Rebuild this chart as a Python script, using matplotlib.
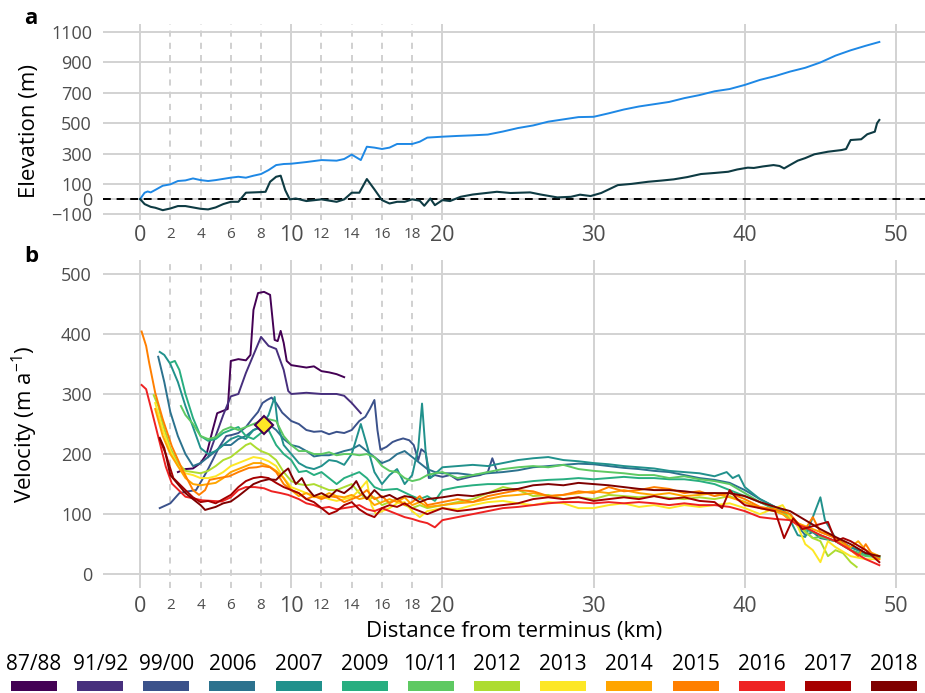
import matplotlib
matplotlib.use("Agg")
import matplotlib.pyplot as plt
from matplotlib.patches import Rectangle

plt.rcParams['font.family'] = ['Open Sans', 'DejaVu Sans']

# ---- panel a: elevation profiles ----
surf_km = [0, 0.3, 0.5, 0.7, 1.0, 1.5, 2.0, 2.5, 3.0, 3.5, 4.0, 4.5, 5.0, 6.0, 6.5, 7.0, 7.5, 8.0, 8.5,
           9.0, 9.5, 10, 11, 12, 13, 13.5, 14, 14.6, 15, 15.5, 16, 16.5, 17, 18, 18.5, 19, 20, 21, 22, 23,
           24, 25, 26, 27, 28, 29, 30, 31, 32, 33, 34, 35, 36, 37, 38, 39, 40, 41, 42, 43, 44, 45, 46, 47,
           48, 48.9]
surf_m = [0, 42, 50, 44, 60, 88, 97, 119, 123, 136, 125, 119, 125, 141, 147, 141, 154, 165, 191,
          224, 231, 233, 244, 257, 253, 264, 293, 257, 345, 339, 330, 339, 363, 363, 378, 405, 411, 416,
          420, 425, 445, 468, 485, 510, 525, 540, 542, 565, 590, 610, 625, 640, 665, 685, 710, 725, 752,
          785, 810, 840, 865, 900, 945, 980, 1010, 1035]

bed_km = [0, 0.3, 0.7, 1.0, 1.5, 2.0, 2.5, 3.0, 3.5, 4.0, 4.5, 5.0, 5.5, 6.0, 6.5, 7.0, 7.5, 8.0, 8.3,
          8.6, 9.0, 9.3, 9.6, 9.9, 10.3, 11, 12, 13, 13.5, 14, 14.5, 15, 15.5, 16, 16.5, 17, 17.5, 18,
          18.5, 18.8, 19.2, 19.5, 20, 20.5, 21.2, 22, 23.6, 24.5, 25.8, 26.5, 27.6, 28.5, 29.1, 29.8,
          30.5, 31.6, 32.5, 33.6, 34.5, 35.3, 36.2, 37.1, 38.0, 38.9, 39.5, 40.2, 40.6, 41.2, 41.9,
          42.3, 42.6, 43.0, 43.5, 44.0, 44.6, 45.5, 46.4, 46.7, 47.0, 47.7, 48.1, 48.6, 48.75, 48.9]
bed_m = [0, -33, -51, -57, -73, -62, -46, -46, -55, -64, -68, -55, -33, -18, -18, 42, 44, 46, 48,
         114, 147, 154, 59, -2, 4, -13, -2, -18, -2, 42, 42, 132, 64, -7, -29, -18, -18, -2,
         -11, -44, 4, -40, -7, -13, 15, 30, 48, 40, 44, 30, 11, 15, 29, 20,
         40, 92, 100, 114, 122, 130, 145, 165, 172, 180, 195, 207, 205, 215, 224,
         218, 202, 225, 253, 270, 295, 312, 323, 330, 389, 394, 427, 444, 500, 521]

# ---- panel b: velocity profiles ----
years = ['87/88', '91/92', '99/00', '2006', '2007', '2009', '10/11', '2012', '2013', '2014',
         '2015', '2016', '2017', '2018']
year_colors = ['#440154', '#472f7d', '#3b528b', '#2c728e', '#21918c', '#28ae80', '#5ec962',
               '#addc30', '#fde725', '#ffa500', '#ff7f00', '#ee2222', '#a60000', '#7f0000']

km_8788 = [2.5, 3.0, 3.5, 4.0, 4.4, 4.8, 5.1, 5.5, 5.8, 6.0, 6.5, 7.0, 7.3, 7.5, 7.8, 8.2, 8.6, 8.9,
           9.1, 9.3, 9.5, 9.7, 10.0, 10.5, 11.0, 11.5, 12.0, 12.5, 13.0, 13.5]
v_8788 = [170, 175, 176, 185, 200, 240, 268, 272, 275, 355, 358, 356, 365, 440, 468, 470, 465, 390,
          388, 405, 385, 355, 348, 346, 344, 346, 338, 336, 333, 328]

km_9192 = [4.5, 5.0, 5.5, 6.0, 6.5, 7.0, 7.5, 8.0, 8.5, 9.0, 9.5, 9.8, 10.0, 11, 12, 13, 13.5, 14, 14.6]
v_9192 = [195, 230, 265, 296, 300, 335, 365, 395, 380, 375, 340, 305, 300, 302, 300, 300, 297, 285, 268]

km_9900 = [1.3, 2.0, 2.6, 3.2, 3.7, 4.1, 4.5, 4.8, 5.2, 5.7, 6.1, 6.5, 7.0, 7.4, 7.8, 8.1, 8.4, 8.7,
           9.0, 9.4, 10.0, 10.5, 11.0, 11.5, 12.0, 12.5, 13.0, 13.5, 14.0, 14.5, 14.9, 15.2, 15.5,
           15.7, 15.9, 16.3, 16.7, 17.0, 17.4, 17.8, 18.1, 18.4, 18.6, 18.9, 19.1, 19.5, 20.0, 20.5,
           21.0, 21.5, 22.0, 22.5, 23.0, 23.3, 23.6]
v_9900 = [110, 118, 135, 138, 140, 157, 175, 190, 210, 230, 232, 235, 245, 258, 270, 285, 290, 294,
          285, 269, 255, 250, 240, 237, 238, 233, 237, 235, 240, 255, 262, 275, 290,
          240, 207, 212, 220, 223, 226, 223, 215, 190, 208, 202, 160, 165, 162, 165,
          157, 160, 163, 165, 170, 193, 172]

km_2006 = [1.2, 1.6, 2.0, 2.5, 3.0, 3.5, 4.0, 4.5, 5.0, 5.5, 6.0, 6.5, 7.0, 7.5, 8.0, 8.5, 9.0, 9.5,
           10.0, 10.5, 11, 11.5, 12, 12.5, 13, 13.5, 14, 14.5, 15, 15.5, 16, 16.5, 17, 17.5, 18, 18.5,
           19, 19.5, 20, 21, 22, 23, 24, 25, 26, 27, 28, 29, 30, 31, 32, 33, 34, 35, 36, 37, 38, 39,
           40, 41, 42, 43, 43.5, 44, 44.5, 45, 46, 47, 48, 48.9]
v_2006 = [362, 320, 270, 230, 200, 180, 185, 195, 205, 215, 215, 225, 230, 240, 245, 250, 240, 225,
          215, 212, 205, 196, 198, 198, 201, 205, 208, 215, 205, 195, 185, 190, 200, 205, 195, 185,
          175, 170, 168, 168, 165, 168, 170, 173, 178, 180, 182, 184, 183, 180, 177, 175, 172, 170,
          165, 160, 157, 152, 140, 125, 112, 100, 80, 65, 70, 60, 55, 45, 35, 30]

km_2007 = [1.3, 1.6, 2.0, 2.5, 3.0, 3.5, 4.0, 4.5, 5.0, 5.5, 6.0, 6.5, 7.0, 7.5, 8.0, 8.5, 8.9, 9.1,
           9.5, 10, 10.5, 11, 11.5, 12, 12.5, 13, 13.5, 14, 14.6, 15, 15.5, 16, 16.5, 17, 17.5, 18,
           18.4, 18.65, 18.9, 19.2, 20, 21, 22, 23, 24, 25, 26, 27, 28, 29, 30, 31, 32, 33, 34, 35,
           36, 37, 38, 38.8, 39.2, 39.6, 40, 41, 42, 43, 43.5, 44, 44.5, 45, 45.3, 46, 47, 48, 48.9]
v_2007 = [370, 365, 350, 320, 280, 245, 210, 200, 205, 215, 225, 230, 225, 240, 245, 265, 295, 250,
          215, 200, 185, 178, 175, 180, 190, 188, 182, 200, 250, 215, 170, 150, 165, 175, 150, 165,
          210, 284, 200, 160, 178, 180, 182, 180, 185, 190, 193, 195, 190, 188, 185, 183, 180, 178,
          176, 172, 170, 168, 163, 170, 160, 165, 145, 125, 112, 90, 65, 62, 95, 128, 90, 60, 45,
          35, 30]

km_2009 = [2.0, 2.3, 2.6, 3.0, 3.5, 4.0, 4.5, 5.0, 5.5, 6.0, 6.5, 7.0, 7.5, 8.0, 8.5, 9.0, 9.5, 10,
           10.5, 11, 11.5, 12, 12.5, 13, 13.5, 14, 14.5, 15, 15.5, 16, 17, 18, 18.5, 19, 19.5, 20,
           21, 22, 23, 24, 25, 26, 27, 28, 29, 30, 31, 32, 33, 34, 35, 36, 37, 38, 39, 40, 41, 42,
           43, 44, 45, 46, 47, 48, 48.9]
v_2009 = [352, 355, 340, 300, 260, 230, 222, 225, 235, 240, 245, 230, 225, 235, 240, 215, 200, 190,
          170, 172, 165, 170, 160, 150, 160, 165, 170, 160, 145, 140, 142, 130, 125, 130, 122, 140,
          145, 148, 150, 150, 152, 155, 157, 158, 160, 158, 160, 162, 160, 160, 158, 158, 155, 150,
          140, 130, 120, 108, 95, 75, 65, 55, 40, 32, 28]

km_1011 = [2.7, 3.0, 3.5, 4.0, 4.5, 5.0, 5.5, 6.0, 6.5, 7.0, 7.5, 8.0, 8.5, 9.0, 9.5, 10, 10.5, 11,
           11.5, 12, 12.5, 13, 13.5, 14, 14.5, 15, 15.5, 16, 16.5, 17, 17.5, 18, 18.5, 19, 19.5, 20,
           21, 22, 23, 24, 25, 26, 27, 28, 29, 30, 31, 32, 33, 34, 35, 36, 37, 38, 39, 40, 41, 42,
           43, 43.5, 44, 44.5, 45, 46, 47, 48, 48.9]
v_1011 = [280, 265, 250, 230, 225, 228, 240, 245, 240, 245, 250, 255, 258, 255, 230, 215, 205, 205,
          200, 200, 203, 198, 200, 200, 198, 200, 195, 180, 172, 170, 160, 155, 158, 165, 168, 170,
          160, 165, 170, 175, 178, 180, 178, 182, 175, 172, 170, 168, 165, 165, 160, 163, 158, 155,
          150, 135, 120, 110, 98, 85, 72, 60, 62, 55, 40, 30, 28]

km_2012 = [0.9, 1.2, 1.5, 2.0, 2.5, 3.0, 3.5, 4.0, 4.5, 5.0, 5.5, 6.0, 6.5, 7.0, 7.3, 7.7, 8.0, 8.5,
           9.0, 9.5, 10, 10.5, 11, 11.5, 12, 12.5, 13, 13.5, 14, 14.5, 15, 15.5, 16, 16.5, 17, 17.5,
           18, 18.5, 19, 20, 21, 22, 23, 24, 25, 26, 27, 28, 29, 30, 31, 32, 33, 34, 35, 36, 37, 38,
           39, 40, 41, 42, 43, 43.5, 44, 44.5, 45, 45.5, 46, 46.5, 47, 47.4]
v_2012 = [298, 280, 250, 210, 185, 172, 170, 168, 172, 180, 190, 195, 205, 215, 218, 210, 205, 200,
          190, 170, 155, 150, 148, 150, 145, 140, 140, 145, 150, 135, 125, 128, 115, 120, 125, 115,
          110, 115, 110, 115, 120, 125, 135, 145, 140, 130, 132, 125, 128, 125, 132, 130, 128, 130,
          127, 125, 128, 125, 130, 120, 110, 105, 95, 85, 70, 60, 55, 30, 40, 35, 20, 12]

km_2013 = [1.0, 1.5, 2.0, 2.5, 3.0, 3.5, 4.0, 4.5, 5.0, 5.5, 6.0, 6.5, 7.0, 7.5, 8.0, 8.5, 9.0, 9.5,
           10, 10.5, 11, 11.5, 12, 12.5, 13, 13.5, 14, 14.5, 15.0, 15.3, 15.6, 16, 16.5, 17, 17.5,
           18, 18.5, 19, 20, 21, 22, 23, 24, 25, 26, 27, 28, 29, 30, 31, 32, 33, 34, 35, 36, 37, 38,
           39, 40, 41, 42, 42.5, 43, 43.5, 44, 44.5, 45, 45.5, 46, 47, 48, 48.9]
v_2013 = [285, 240, 205, 180, 168, 165, 160, 160, 163, 170, 180, 185, 190, 195, 193, 188, 180, 160,
          145, 140, 135, 128, 130, 125, 122, 125, 128, 140, 155, 115, 100, 105, 110, 118, 120,
          105, 95, 105, 110, 108, 115, 120, 122, 118, 115, 120, 118, 110, 110, 115, 118, 112, 115,
          110, 115, 112, 115, 118, 110, 100, 110, 115, 95, 80, 50, 40, 20, 55, 45, 30, 25, 25]

km_2014 = [1.0, 1.5, 2.0, 2.5, 3.0, 3.5, 4.0, 4.5, 5.0, 5.5, 6.0, 6.5, 7.0, 7.5, 8.0, 8.5, 9.0, 9.5,
           10, 10.5, 11, 11.5, 12, 12.5, 13, 13.5, 14, 14.5, 15, 15.5, 16, 16.5, 17, 17.5, 18, 18.5,
           19, 20, 21, 22, 23, 24, 25, 26, 27, 28, 29, 30, 31, 32, 33, 34, 35, 36, 37, 38, 39, 40,
           41, 42, 42.5, 43, 43.5, 44, 44.5, 45, 45.5, 46, 46.5, 47, 47.5, 48, 48.9]
v_2014 = [275, 230, 200, 180, 160, 150, 148, 150, 152, 160, 170, 175, 180, 185, 185, 180, 172, 160,
          140, 130, 135, 130, 128, 135, 130, 128, 132, 125, 128, 115, 120, 125, 120, 128, 115, 120,
          112, 115, 118, 120, 125, 130, 132, 135, 130, 132, 135, 138, 135, 140, 135, 132, 135, 130,
          132, 135, 128, 120, 110, 105, 100, 90, 85, 80, 75, 70, 68, 60, 50, 45, 55, 40, 30]

km_2015 = [0.1, 0.4, 0.6, 1.0, 1.5, 2.1, 2.8, 3.5, 3.9, 4.3, 4.6, 5.2, 5.9, 6.5, 7.2, 7.7, 8.1, 8.6,
           9.0, 9.5, 10, 10.5, 11, 11.5, 12, 12.5, 13, 13.5, 14, 14.5, 15, 15.5, 16, 16.5, 17, 17.5,
           18, 18.5, 19, 20, 21, 22, 23, 24, 25, 26, 27, 28, 29, 30, 31, 32, 33, 34, 35, 36, 37, 38,
           39, 40, 41, 42, 43, 43.5, 44, 44.5, 45, 45.5, 46, 46.5, 47, 47.5, 48, 48.5, 48.9]
v_2015 = [404, 380, 352, 302, 258, 213, 174, 140, 132, 140, 157, 160, 163, 170, 177, 178, 180, 178,
          170, 150, 140, 135, 125, 130, 125, 130, 128, 120, 125, 130, 140, 125, 130, 118, 125, 115,
          120, 130, 115, 120, 125, 120, 130, 135, 140, 138, 130, 132, 138, 135, 145, 138, 140, 145,
          142, 135, 138, 130, 135, 125, 112, 108, 100, 85, 75, 95, 70, 65, 60, 55, 40, 30, 50, 30, 25]

km_2016 = [0.1, 0.4, 0.8, 1.25, 1.7, 2.1, 3.0, 4.1, 5.4, 6.0, 6.5, 7.0, 7.6, 8.2, 8.7, 9.3, 9.8, 10.5,
           11, 11.5, 12, 12.5, 13, 13.5, 14, 14.5, 15, 15.5, 16, 16.5, 17, 17.5, 18, 18.5, 19, 19.5,
           20, 21, 22, 23, 24, 25, 26, 27, 28, 29, 30, 31, 32, 33, 34, 35, 36, 37, 38, 39, 40, 41,
           42, 43, 43.5, 44, 45, 46, 47, 48, 48.9]
v_2016 = [315, 308, 269, 224, 179, 151, 129, 123, 121, 128, 140, 145, 145, 143, 138, 135, 132, 125,
          118, 115, 110, 112, 108, 110, 112, 115, 108, 105, 110, 105, 100, 95, 92, 88, 85, 78,
          90, 95, 100, 105, 110, 112, 115, 118, 120, 120, 118, 120, 118, 120, 118, 115, 118, 115,
          115, 112, 105, 95, 92, 90, 82, 78, 65, 55, 40, 25, 15]

km_2017 = [1.3, 1.7, 2.2, 3.0, 3.5, 4.0, 4.5, 5.0, 5.5, 6.0, 6.5, 7.0, 7.5, 8.0, 8.5, 9.0, 9.5, 10,
           10.5, 11, 11.5, 12, 12.5, 13, 13.5, 14, 14.5, 15, 15.5, 16, 16.5, 17, 17.5, 18, 18.5, 19,
           20, 21, 22, 23, 24, 25, 26, 27, 28, 29, 30, 31, 32, 33, 34, 35, 36, 37, 38, 38.5, 39,
           39.5, 40, 41, 42, 42.6, 43.2, 43.8, 44.5, 45.5, 46, 46.5, 47, 48, 48.9]
v_2017 = [225, 200, 160, 140, 128, 120, 122, 118, 125, 132, 145, 155, 160, 162, 160, 152, 145, 140,
          135, 125, 120, 110, 100, 105, 115, 120, 108, 100, 95, 110, 115, 112, 118, 110, 105, 100,
          110, 105, 108, 112, 115, 118, 125, 128, 125, 128, 122, 125, 128, 125, 130, 125, 128, 122,
          120, 110, 140, 125, 115, 110, 105, 60, 93, 75, 80, 87, 55, 60, 55, 40, 20]

km_2018 = [1.3, 1.6, 2.0, 2.5, 3.0, 3.5, 4.0, 4.3, 5.0, 5.5, 6.0, 6.5, 7.0, 7.5, 8.0, 8.5, 9.0, 9.5,
           9.8, 10, 10.3, 10.7, 11, 11.5, 12, 12.5, 13, 13.5, 14, 14.3, 14.7, 15, 15.5, 16, 16.5, 17,
           17.5, 18, 18.5, 19, 20, 21, 22, 23, 24, 25, 26, 27, 28, 29, 30, 31, 32, 33, 34, 35, 36,
           37, 38, 39, 40, 41, 42, 43, 44, 45, 46, 47, 48, 48.9]
v_2018 = [227, 210, 165, 150, 135, 125, 115, 107, 112, 118, 121, 130, 140, 150, 155, 158, 157, 170,
          176, 165, 150, 160, 145, 130, 135, 128, 140, 135, 145, 155, 135, 125, 140, 128, 132, 125,
          130, 128, 120, 125, 128, 132, 130, 135, 140, 142, 148, 150, 148, 152, 150, 148, 145, 142,
          140, 140, 138, 135, 135, 135, 130, 120, 112, 105, 90, 75, 62, 50, 35, 30]

vel_km = [km_8788, km_9192, km_9900, km_2006, km_2007, km_2009, km_1011, km_2012, km_2013,
          km_2014, km_2015, km_2016, km_2017, km_2018]
vel_v = [v_8788, v_9192, v_9900, v_2006, v_2007, v_2009, v_1011, v_2012, v_2013,
         v_2014, v_2015, v_2016, v_2017, v_2018]

marker_km = [8.2]
marker_v = [249]

major_x = [0, 10, 20, 30, 40, 50]
minor_x = [2, 4, 6, 8, 12, 14, 16, 18]
elev_ticks = [-100, 0, 100, 300, 500, 700, 900, 1100]
vel_ticks = [0, 100, 200, 300, 400, 500]

grid_col = '#d2d2d2'
tick_col = '#4d4d4d'

fig = plt.figure(figsize=(9.25, 6.93), dpi=100)
ax_a = fig.add_axes([0.1114, 0.6825, 0.8886, 0.2828])
ax_b = fig.add_axes([0.1114, 0.1515, 0.8886, 0.4733])


def style_axis(ax, major_pad, minor_pad):
    for s in ax.spines.values():
        s.set_visible(False)
    ax.set_xlim(-2.45, 51.92)
    ax.set_xticks(major_x)
    ax.set_xticklabels([str(t) for t in major_x], fontsize=15.5, color=tick_col)
    ax.set_xticks(minor_x, minor=True)
    ax.set_xticklabels([str(t) for t in minor_x], minor=True, fontsize=11, color=tick_col)
    ax.tick_params(which='both', length=0)
    ax.tick_params(axis='x', which='major', pad=major_pad)
    ax.tick_params(axis='x', which='minor', pad=minor_pad)
    ax.tick_params(axis='y', pad=8, labelsize=13, labelcolor=tick_col)
    ax.grid(which='major', color=grid_col, lw=1.4)
    ax.grid(which='minor', axis='x', color='#c4c4c4', lw=1.1, ls=(0, (4, 4)))
    ax.set_axisbelow(True)


# panel a
style_axis(ax_a, 3.5, 5.0)
ax_a.set_ylim(-138, 1153)
ax_a.set_yticks(elev_ticks)
ax_a.axhline(0, color='black', lw=1.4, ls=(0, (4, 3)), zorder=2)
ax_a.plot(surf_km, surf_m, color='#1e88e5', lw=1.4, zorder=3)
ax_a.plot(bed_km, bed_m, color='#0e3b43', lw=1.5, zorder=3)
ax_a.set_ylabel('Elevation (m)', fontsize=16)
ax_a.yaxis.set_label_coords(-0.0766, 0.455)

# panel b
style_axis(ax_b, 6.0, 7.2)
ax_b.set_ylim(-23, 523)
ax_b.set_yticks(vel_ticks)
for xs, vs, c in zip(vel_km, vel_v, year_colors):
    ax_b.plot(xs, vs, color=c, lw=1.4, zorder=3)
ax_b.plot(marker_km, marker_v, marker='D', ms=9, mfc='#fde725', mec='#440154', mew=1.5,
          ls='none', zorder=5)
ax_b.set_ylabel(r'Velocity (m a$^{\mathregular{-1}}$)', fontsize=16)
ax_b.yaxis.set_label_coords(-0.0766, 0.5)
ax_b.set_xlabel('Distance from terminus (km)', fontsize=16, va='center')
ax_b.xaxis.set_label_coords(0.5, -0.134)

fig.text(24 / 925, 1 - 18 / 693, 'a', fontsize=16, fontweight='bold', va='center')
fig.text(24 / 925, 1 - 257 / 693, 'b', fontsize=16, fontweight='bold', va='center')

# legend: labels above colour keys
for i, (lab, c) in enumerate(zip(years, year_colors)):
    cx = (34 + i * 66.15) / 925
    fig.text(cx, 1 - 665 / 693, lab, fontsize=15, ha='center', va='center', color='black')
    fig.add_artist(Rectangle((cx - 23 / 925, 1 - 691 / 693), 46 / 925, 10 / 693,
                             transform=fig.transFigure, facecolor=c, edgecolor='none'))

fig.savefig('out.png', dpi=100)
